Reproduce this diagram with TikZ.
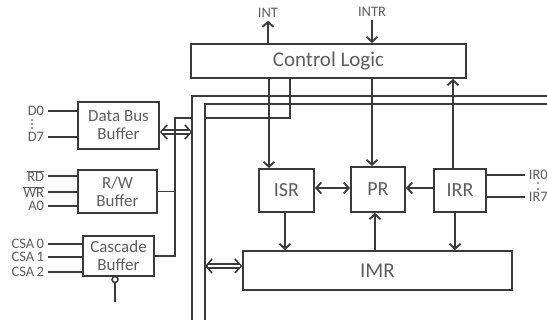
\documentclass[tikz,border=0pt]{standalone}
\usepackage{fontspec}
\setmainfont{Carlito}
\usepackage{xcolor}
\usepackage{tikz}
\usetikzlibrary{arrows.meta,calc}
\definecolor{wireGray}{HTML}{3A3A3A}
\definecolor{labelGray}{HTML}{5E5E5E}

\begin{document}
\begin{tikzpicture}[x=1pt,y=-1pt,
line width=1.9pt,
color=wireGray,
text=labelGray,
block/.style={draw=wireGray, line width=1.9pt, inner sep=0pt, align=center, font=\fontsize{17}{18}\selectfont},
regbox/.style={block, font=\fontsize{20}{20}\selectfont},
pin/.style={inner xsep=3pt, inner ysep=0pt, anchor=east, font=\fontsize{14.5}{14.5}\selectfont},
tip/.style={-{Straight Barb[length=5pt,width=11pt]}},
twotip/.style={{Straight Barb[length=5pt,width=11pt]}-{Straight Barb[length=5pt,width=11pt]}},
bustip/.style={{Straight Barb[length=6pt,width=14pt]}-{Straight Barb[length=6pt,width=14pt]}},
busline/.style={double=white, double distance=2.6pt, line width=1.6pt, shorten <=2.5pt, shorten >=2.5pt}
]
\useasboundingbox[fill=white] (0,0) rectangle (547,325);

% blocks
\node[block, font=\fontsize{21}{21}\selectfont, minimum width=275pt, minimum height=34pt] (ctrl) at (328.5,61) {Control Logic};
\node[block, minimum width=81pt, minimum height=47pt] (dbb) at (118.5,125.5) {Data Bus\\Buffer};
\node[block, minimum width=79pt, minimum height=43pt] (rw) at (117.5,191.5) {R/W\\Buffer};
\node[block, minimum width=71pt, minimum height=40pt] (cas) at (118.5,256) {Cascade\\Buffer};
\node[regbox, minimum width=55pt, minimum height=43pt] (isr) at (286.5,190.5) {ISR};
\node[regbox, minimum width=54pt, minimum height=45pt] (pr) at (378,189.5) {PR};
\node[regbox, minimum width=52pt, minimum height=43pt] (irr) at (460,190.5) {IRR};
\node[regbox, font=\fontsize{21}{21}\selectfont, minimum width=269pt, minimum height=39pt] (imr) at (377.5,270.5) {IMR};

% internal bus
\coordinate (ob) at (192,96);
\coordinate (obBot) at (192,320);
\coordinate (obEnd) at (547,96);
\coordinate (ib) at (205,104);
\coordinate (ibBot) at (205,320);
\coordinate (ibEnd) at (547,104);
\draw (obBot) -- (ob) -- (obEnd);
\draw (ibBot) -- (ib) -- (ibEnd);

% interrupt pins
\node[pin, anchor=center, inner ysep=2pt] (int) at (268,13) {INT};
\node[pin, anchor=center, inner ysep=2pt] (intr) at (372,12) {INTR};
\draw[tip] (ctrl.north -| int) -- (int.south);
\draw[tip] (intr.south) -- (ctrl.north -| intr);

% control logic links
\coordinate (xisr) at (269,0);
\coordinate (cfg) at (290,118);
\coordinate (xpr) at (372,0);
\coordinate (xirr) at (453,0);
\draw[tip] (ctrl.south -| xisr) -- (isr.north -| xisr);
\draw (ctrl.south -| cfg) -- (cfg) -- (ib |- cfg);
\draw[tip] (ctrl.south -| xpr) -- (pr.north -| xpr);
\draw[tip] (irr.north -| xirr) -- (ctrl.south -| xirr);

% register links
\coordinate (yreg) at (0,188);
\draw[twotip] (isr.east |- yreg) -- (pr.west |- yreg);
\draw[tip] (irr.west |- yreg) -- (pr.east |- yreg);
\coordinate (xa) at (285,0);
\coordinate (xb) at (375,0);
\coordinate (xc) at (455,0);
\draw[tip] (isr.south -| xa) -- (imr.north -| xa);
\draw[tip] (imr.north -| xb) -- (pr.south -| xb);
\draw[tip] (irr.south -| xc) -- (imr.north -| xc);

% IR inputs
\node[pin, anchor=west] (ir0) at (525,175) {IR0};
\node[pin, anchor=west] (ir7) at (525,197) {IR7};
\draw (irr.east |- ir0) -- (ir0.west);
\draw (irr.east |- ir7) -- (ir7.west);
\fill (538,183) circle (0.8pt) (538,189) circle (0.8pt);

% bus to IMR and data bus buffer
\coordinate (ylink) at (0,266);
\draw[bustip, line width=1.6pt] (ib |- ylink) -- (imr.west |- ylink);
\draw[busline] (ib |- ylink) -- (imr.west |- ylink);
\coordinate (dlink) at (192,132);
\draw[bustip, line width=1.6pt] (dbb.east |- dlink) -- (dlink);
\draw[busline] (dbb.east |- dlink) -- (dlink);

% buffer stub
\coordinate (stub) at (175,118);
\draw (ob |- stub) -- (stub) |- (cas.east);
\draw (rw.east) -- (rw.east -| stub);

% left pins
\node[pin] (d0) at (48,111) {D0};
\node[pin] (d7) at (48,137) {D7};
\draw (d0) -- (dbb.west |- d0);
\draw (d7) -- (dbb.west |- d7);
\foreach \y in {120,124,128}
  \fill (32,\y) circle (0.8pt);
\node[pin] (rd) at (48,176) {$\overline{\mbox{RD}}$};
\node[pin] (wr) at (48,192) {$\overline{\mbox{WR}}$};
\node[pin] (a0) at (48,206) {A0};
\foreach \p in {rd,wr,a0}
  \draw (\p) -- (rw.west |- \p);
\node[pin] (csa0) at (48,244) {CSA\,0};
\node[pin] (csa1) at (48,257) {CSA\,1};
\node[pin] (csa2) at (48,272) {CSA\,2};
\foreach \p in {csa0,csa1,csa2}
  \draw (\p) -- (cas.west |- \p);

% cascade enable
\node[circle, draw=wireGray, line width=1.5pt, inner sep=0pt, minimum size=6pt] (cen) at (115,279.5) {};
\coordinate (cenEnd) at (115,302);
\draw (cen) -- (cenEnd);
\end{tikzpicture}
\end{document}
